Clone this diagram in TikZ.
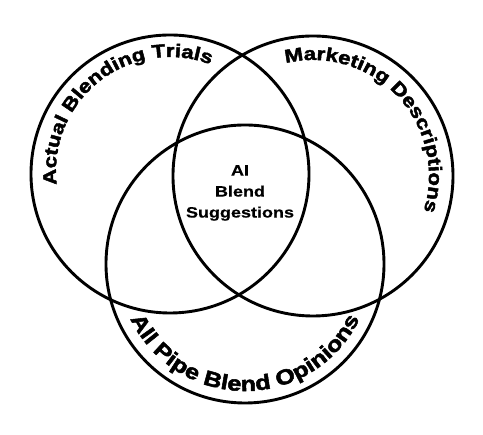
\documentclass[tikz,border=0pt]{standalone}
\usepackage{fontspec}
\newfontfamily\vennfont{Liberation Sans Bold}[FakeStretch=1.2, FakeBold=2.4]
\newfontfamily\centerfont{Liberation Sans Bold}[FakeStretch=1.2, FakeBold=0.6]
\usetikzlibrary{decorations.text}

\begin{document}
\begin{tikzpicture}[x=1pt, y=1pt,
  set/.style={circle, draw, line width=2.9pt, minimum size=#1, inner sep=0pt},
  arc label/.style 2 args={decorate, decoration={text along path, text align=center,
    text={|\vennfont\fontsize{#1}{#1}\selectfont|#2}}}]
\useasboundingbox (0,0) rectangle (483,435);
\foreach \pos/\name/\size in {{(170,261)/trials/278pt}, {(313,259)/market/280pt}, {(245,171)/opinions/278pt}}
\node[set=\size] (\name) at \pos {};

% labels along the circles
\path[arc label={18.5}{Actual Blending Trials}] (170,264) ++(196:114) arc[start angle=196, end angle=60, radius=114];
\path[arc label={18.5}{Marketing Descriptions}] (313,259) ++(112:116) arc[start angle=112, end angle=-26, radius=116];
\path[arc label={21}{All Pipe Blend Opinions}] (245,171) ++(195:127) arc[start angle=195, end angle=345, radius=127];

\node[align=center, font=\centerfont\fontsize{15}{21}\selectfont] (ai) at (240,242) {AI\\Blend\\Suggestions};
\end{tikzpicture}
\end{document}
